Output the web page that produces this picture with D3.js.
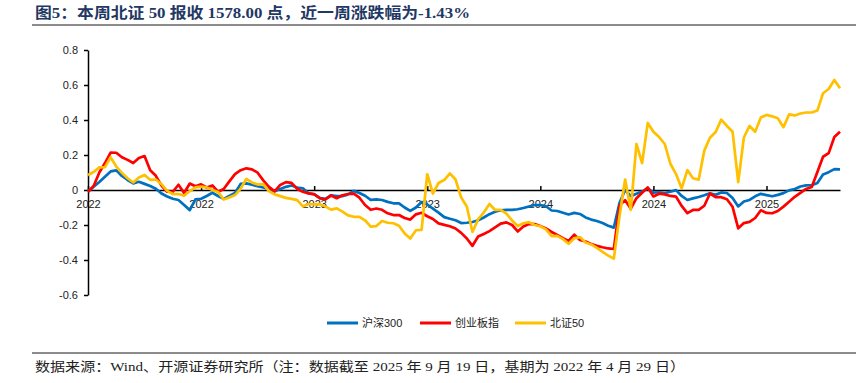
<!DOCTYPE html>
<html>
<head>
<meta charset="utf-8">
<script src="https://cdn.jsdelivr.net/npm/d3@7"></script>
<style>
  body { margin: 0; background: #fff; }
  svg { display: block; }
</style>
</head>
<body>
<script>
// Index values rebased to base date (2022-04-29), sampled along the trading days
var hs300 = [
  -0.010, 0.019, 0.046, 0.076, 0.106, 0.112, 0.080, 0.057, 0.038, 0.047,
  0.035, 0.023, 0.007, -0.020, -0.037, -0.050, -0.057, -0.086, -0.115, -0.054,
  -0.050, -0.034, -0.016, -0.034, -0.051, -0.034, -0.017, 0.035, 0.038, 0.030,
  0.022, 0.014, 0.006, -0.007, 0.006, 0.018, 0.026, 0.014, 0.010, -0.019,
  -0.023, -0.046, -0.051, -0.030, -0.035, -0.035, -0.025, -0.005, -0.017, -0.033,
  -0.056, -0.054, -0.057, -0.068, -0.076, -0.076, -0.100, -0.119, -0.100, -0.069,
  -0.083, -0.106, -0.129, -0.155, -0.164, -0.173, -0.189, -0.187, -0.183, -0.173,
  -0.157, -0.138, -0.124, -0.116, -0.114, -0.114, -0.110, -0.103, -0.094, -0.086,
  -0.086, -0.093, -0.117, -0.120, -0.130, -0.140, -0.131, -0.137, -0.157, -0.169,
  -0.177, -0.189, -0.204, -0.215, -0.074, 0.000, -0.035, -0.022, -0.009, 0.010,
  -0.015, -0.013, -0.017, -0.010, -0.001, -0.034, -0.057, -0.048, -0.040, -0.030,
  -0.019, -0.027, -0.014, -0.017, -0.046, -0.094, -0.066, -0.057, -0.036, -0.022,
  -0.029, -0.036, -0.028, -0.018, -0.002, 0.006, 0.020, 0.026, 0.027, 0.040,
  0.088, 0.102, 0.119, 0.118
];
var cyb = [
  -0.010, 0.023, 0.100, 0.154, 0.214, 0.213, 0.187, 0.172, 0.154, 0.183,
  0.194, 0.113, 0.081, 0.025, -0.010, -0.010, 0.030, -0.017, 0.037, 0.021,
  0.032, 0.014, 0.026, -0.010, 0.006, 0.049, 0.091, 0.113, 0.124, 0.118,
  0.099, 0.055, 0.018, -0.008, 0.029, 0.045, 0.041, 0.006, -0.010, -0.019,
  -0.025, -0.047, -0.054, -0.031, -0.047, -0.030, -0.023, -0.021, -0.044, -0.086,
  -0.113, -0.106, -0.113, -0.133, -0.143, -0.143, -0.160, -0.169, -0.139, -0.130,
  -0.150, -0.166, -0.191, -0.199, -0.207, -0.220, -0.245, -0.277, -0.319, -0.266,
  -0.251, -0.235, -0.214, -0.192, -0.185, -0.200, -0.237, -0.209, -0.194, -0.195,
  -0.206, -0.220, -0.240, -0.257, -0.275, -0.291, -0.255, -0.286, -0.294, -0.309,
  -0.319, -0.327, -0.334, -0.337, -0.089, -0.058, -0.107, -0.047, -0.016, 0.015,
  -0.037, -0.021, -0.025, -0.034, -0.038, -0.091, -0.132, -0.114, -0.114, -0.090,
  -0.020, -0.041, -0.041, -0.053, -0.096, -0.219, -0.189, -0.182, -0.160, -0.116,
  -0.131, -0.133, -0.120, -0.095, -0.067, -0.039, -0.017, 0.006, 0.017, 0.103,
  0.190, 0.211, 0.303, 0.333
];
var bz50 = [
  0.086, 0.103, 0.129, 0.131, 0.187, 0.134, 0.098, 0.067, 0.043, 0.071,
  0.086, 0.058, 0.060, 0.033, -0.005, -0.023, -0.023, -0.032, -0.006, 0.015,
  0.019, 0.015, 0.000, -0.011, -0.054, -0.043, -0.029, 0.008, 0.063, 0.043,
  0.031, 0.034, -0.006, -0.025, -0.035, -0.045, -0.051, -0.058, -0.094, -0.080,
  -0.082, -0.081, -0.095, -0.112, -0.105, -0.124, -0.145, -0.153, -0.153, -0.173,
  -0.209, -0.206, -0.177, -0.187, -0.190, -0.204, -0.248, -0.277, -0.230, -0.228,
  0.090, -0.020, 0.040, 0.057, 0.095, 0.060, -0.043, -0.094, -0.240, -0.167,
  -0.129, -0.080, -0.114, -0.114, -0.135, -0.174, -0.206, -0.190, -0.184, -0.200,
  -0.207, -0.225, -0.264, -0.262, -0.281, -0.307, -0.276, -0.269, -0.300, -0.311,
  -0.331, -0.353, -0.375, -0.392, -0.150, 0.060, -0.114, 0.263, 0.154, 0.383,
  0.333, 0.303, 0.263, 0.150, 0.091, 0.009, 0.114, 0.067, 0.059, 0.225,
  0.299, 0.331, 0.402, 0.366, 0.333, 0.045, 0.300, 0.366, 0.333, 0.414,
  0.429, 0.421, 0.410, 0.359, 0.432, 0.426, 0.437, 0.443, 0.443, 0.454,
  0.553, 0.577, 0.629, 0.581
];
var seriesNames = ["沪深300", "创业板指", "北证50"];
var tickIdx = [0, 20, 40, 60, 80, 100, 120];
var tickLabels = ["2022", "2022", "2023", "2023", "2024", "2024", "2025"];
var yTicks = [-0.6, -0.4, -0.2, 0, 0.2, 0.4, 0.6, 0.8];

function draw() {
    var width = 856,
        height = 383;

    var svg = d3.select("body")
        .append("svg")
        .attr("width", width)
        .attr("height", height);

    var colors = ["#0070C0", "#FF0000", "#FFC000"];
    var series = [hs300, cyb, bz50];

    // title and rules
    svg.append("text")
        .attr("x", 35)
        .attr("y", 18)
        .attr("font-family", "'Liberation Serif', 'Noto Sans CJK SC', serif")
        .attr("font-weight", "bold")
        .attr("font-size", 15)
        .attr("fill", "#1F3864")
        .attr("textLength", 435)
        .attr("lengthAdjust", "spacingAndGlyphs")
        .text("图5：本周北证 50 报收 1578.00 点，近一周涨跌幅为-1.43%");

    svg.append("line")
        .attr("x1", 32).attr("x2", 856)
        .attr("y1", 25).attr("y2", 25)
        .attr("stroke", "#8c8c8c")
        .attr("stroke-width", 2);

    svg.append("line")
        .attr("x1", 32).attr("x2", 856)
        .attr("y1", 353).attr("y2", 353)
        .attr("stroke", "#8c8c8c")
        .attr("stroke-width", 2);

    svg.append("text")
        .attr("x", 35)
        .attr("y", 371)
        .attr("font-family", "'Liberation Serif', 'Noto Sans CJK SC', serif")
        .attr("font-size", 13)
        .attr("fill", "#222")
        .attr("textLength", 650)
        .attr("lengthAdjust", "spacingAndGlyphs")
        .text("数据来源：Wind、开源证券研究所（注：数据截至 2025 年 9 月 19 日，基期为 2022 年 4 月 29 日）");

    // scales
    var x = d3.scaleLinear()
        .domain([0, hs300.length - 1])
        .range([88, 840]);

    var y = d3.scaleLinear()
        .domain([-0.6, 0.8])
        .range([295, 50]);

    // y axis
    svg.append("g")
        .attr("transform", "translate(88,0)")
        .call(d3.axisLeft(y)
            .tickValues(yTicks)
            .tickSize(4)
            .tickSizeOuter(0)
            .tickPadding(6)
            .tickFormat(function(d) { return String(Math.round(d * 10) / 10); }));

    // x axis sits on zero
    svg.append("g")
        .attr("transform", "translate(0," + y(0) + ")")
        .call(d3.axisBottom(x)
            .tickValues(tickIdx)
            .tickSize(-4)
            .tickSizeOuter(0)
            .tickPadding(10)
            .tickFormat(function(d, i) { return tickLabels[i]; }));

    svg.selectAll(".tick text")
        .attr("font-family", "'Liberation Sans', Arial, sans-serif")
        .attr("font-size", 11)
        .attr("fill", "#222");
    svg.selectAll(".domain, .tick line")
        .attr("stroke", "#000")
        .attr("stroke-width", 1.5);

    // lines
    var line = d3.line()
        .x(function(d, i) { return x(i); })
        .y(function(d) { return y(d); });

    svg.selectAll(".series")
        .data(series)
        .enter()
        .append("path")
        .attr("class", "series")
        .attr("d", line)
        .attr("fill", "none")
        .attr("stroke", function(d, i) { return colors[i]; })
        .attr("stroke-width", 2.7)
        .attr("stroke-linejoin", "round");

    // legend
    var legX = [327, 420, 515];
    var legend = svg.selectAll(".legend")
        .data(seriesNames)
        .enter()
        .append("g")
        .attr("class", "legend")
        .attr("transform", function(d, i) { return "translate(" + legX[i] + ",323)"; });

    legend.append("line")
        .attr("x1", 0).attr("x2", 31)
        .attr("stroke", function(d, i) { return colors[i]; })
        .attr("stroke-width", 3);

    legend.append("text")
        .attr("x", 35)
        .attr("dy", "0.35em")
        .attr("font-family", "'Liberation Sans', 'Noto Sans CJK SC', sans-serif")
        .attr("font-size", 11)
        .attr("fill", "#222")
        .text(function(d) { return d; });
}

draw();
</script>
</body>
</html>
